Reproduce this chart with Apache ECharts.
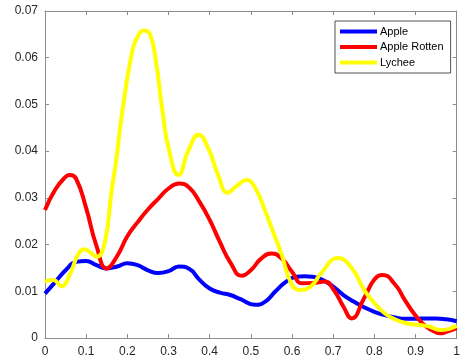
<!DOCTYPE html>
<html>
<head>
<meta charset="utf-8">
<script src="https://cdn.jsdelivr.net/npm/echarts@6/dist/echarts.min.js"></script>
<style>
  html, body { margin: 0; padding: 0; background: #fff; }
  #chart { width: 463px; height: 362px; }
</style>
</head>
<body>
<div id="chart"></div>
<script>
// Density curves: x position and density value for each fruit class
const appleX = [0, 0.025, 0.05, 0.075, 0.1, 0.125, 0.15, 0.175, 0.2, 0.225, 0.25, 0.275, 0.3, 0.325, 0.35, 0.375, 0.4, 0.425, 0.45, 0.475, 0.51, 0.535, 0.56, 0.585, 0.61, 0.63, 0.65, 0.675, 0.7, 0.725, 0.75, 0.775, 0.8, 0.825, 0.85, 0.875, 0.9, 0.925, 0.95, 0.975, 1.0];
const appleY = [0.0095, 0.0120, 0.0145, 0.0163, 0.0165, 0.0156, 0.0149, 0.0153, 0.0160, 0.0156, 0.0145, 0.0139, 0.0143, 0.0153, 0.0148, 0.0125, 0.0106, 0.0097, 0.0092, 0.0083, 0.0071, 0.0078, 0.0100, 0.0120, 0.0131, 0.0132, 0.0131, 0.0124, 0.0110, 0.0092, 0.0078, 0.0066, 0.0056, 0.0049, 0.0044, 0.0041, 0.0041, 0.0042, 0.0042, 0.0040, 0.0036];

const rottenX = [0, 0.025, 0.05, 0.06, 0.075, 0.1, 0.125, 0.15, 0.175, 0.2, 0.225, 0.25, 0.275, 0.3, 0.325, 0.35, 0.375, 0.4, 0.425, 0.45, 0.478, 0.5, 0.525, 0.55, 0.575, 0.6, 0.625, 0.655, 0.68, 0.7, 0.725, 0.745, 0.775, 0.8, 0.82, 0.85, 0.875, 0.9, 0.925, 0.95, 0.96, 0.975, 1.0];
const rottenY = [0.0274, 0.0318, 0.0345, 0.0349, 0.0342, 0.0278, 0.0197, 0.0149, 0.0175, 0.0218, 0.0248, 0.0275, 0.0298, 0.0320, 0.0331, 0.0322, 0.0292, 0.0253, 0.0205, 0.0162, 0.0133, 0.0145, 0.0170, 0.0181, 0.0170, 0.0142, 0.0117, 0.0118, 0.0121, 0.0105, 0.0067, 0.0042, 0.0085, 0.0125, 0.0135, 0.0115, 0.0080, 0.0048, 0.0025, 0.0012, 0.0010, 0.0013, 0.0021];

const lycheeX = [0, 0.02, 0.04, 0.06, 0.08, 0.096, 0.11, 0.125, 0.145, 0.161, 0.173, 0.185, 0.21, 0.225, 0.24, 0.255, 0.269, 0.285, 0.301, 0.324, 0.349, 0.373, 0.398, 0.42, 0.444, 0.465, 0.49, 0.51, 0.534, 0.555, 0.574, 0.598, 0.618, 0.645, 0.671, 0.711, 0.745, 0.775, 0.8, 0.825, 0.85, 0.88, 0.91, 0.935, 0.96, 0.98, 1.0];
const lycheeY = [0.0121, 0.0124, 0.0111, 0.0135, 0.0178, 0.0190, 0.0183, 0.0174, 0.0203, 0.0310, 0.0381, 0.0467, 0.0605, 0.0645, 0.0658, 0.0650, 0.0595, 0.0488, 0.0403, 0.0349, 0.0403, 0.0435, 0.0403, 0.0350, 0.0311, 0.0325, 0.0338, 0.0322, 0.0274, 0.0225, 0.0181, 0.0117, 0.0103, 0.0110, 0.0139, 0.0171, 0.0150, 0.0103, 0.0075, 0.0053, 0.0040, 0.0031, 0.0028, 0.0024, 0.0017, 0.0019, 0.0026];

const seriesNames = ['Apple', 'Apple Rotten', 'Lychee'];
const seriesColors = ['#0000ff', '#ff0000', '#ffff00'];

const xTickLabels = ['0', '0.1', '0.2', '0.3', '0.4', '0.5', '0.6', '0.7', '0.8', '0.9', '1'];
const yTickLabels = ['0', '0.01', '0.02', '0.03', '0.04', '0.05', '0.06', '0.07'];

function pairs(xs, ys) {
  return xs.map((x, i) => [x, ys[i]]);
}

const axisGrey = '#8c8c8c';
const labelColor = '#262626';
const fontFamily = '"Liberation Sans", Arial, Helvetica, sans-serif';

function makeXAxis(position, showLabels) {
  return {
    type: 'value', position: position, min: 0, max: 1, interval: 0.1,
    axisLine: { show: true, onZero: false, lineStyle: { color: axisGrey, width: 1 } },
    axisTick: { show: true, inside: true, length: 4, lineStyle: { color: axisGrey } },
    axisLabel: {
      show: showLabels, margin: 8, color: labelColor, fontSize: 12, fontFamily: fontFamily,
      formatter: (v) => xTickLabels[Math.round(v * 10)]
    },
    splitLine: { show: false }
  };
}

function makeYAxis(position, showLabels) {
  return {
    type: 'value', position: position, min: 0, max: 0.07, interval: 0.01,
    axisLine: { show: true, onZero: false, lineStyle: { color: axisGrey, width: 1 } },
    axisTick: { show: true, inside: true, length: 4, lineStyle: { color: axisGrey } },
    axisLabel: {
      show: showLabels, margin: 7, color: labelColor, fontSize: 12, fontFamily: fontFamily,
      formatter: (v) => yTickLabels[Math.round(v * 100)]
    },
    splitLine: { show: false }
  };
}

const dataSets = [pairs(appleX, appleY), pairs(rottenX, rottenY), pairs(lycheeX, lycheeY)];

const chart = echarts.init(document.getElementById('chart'), null, { renderer: 'canvas' });
chart.setOption({
  animation: false,
  backgroundColor: '#ffffff',
  grid: { left: 45, right: 3, top: 11, bottom: 24, containLabel: false },
  xAxis: [makeXAxis('bottom', true), makeXAxis('top', false)],
  yAxis: [makeYAxis('left', true), makeYAxis('right', false)],
  legend: {
    data: seriesNames,
    orient: 'vertical',
    left: 335, top: 21,
    icon: 'rect',
    itemWidth: 37, itemHeight: 4, itemGap: 2.5,
    padding: [4, 7, 4, 5],
    backgroundColor: '#ffffff',
    borderColor: '#262626', borderWidth: 0.8,
    textStyle: { color: '#000', fontSize: 11, fontFamily: fontFamily, padding: [0, 0, 0, -2], lineHeight: 13 }
  },
  series: seriesNames.map((name, i) => ({
    name: name,
    type: 'line',
    xAxisIndex: 0, yAxisIndex: 0,
    data: dataSets[i],
    smooth: 0.5,
    symbol: 'none',
    color: seriesColors[i],
    lineStyle: { color: seriesColors[i], width: 4 },
    z: 2 + i
  }))
});
</script>
</body>
</html>
